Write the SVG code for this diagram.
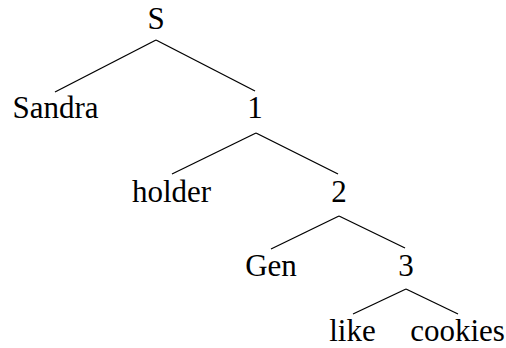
<svg xmlns="http://www.w3.org/2000/svg" width="506" height="348" viewBox="0 0 506 348">
<style>
text{font-family:"Liberation Serif","Times New Roman",serif;font-size:31px;fill:#000;text-anchor:middle}
line{stroke:#000;stroke-width:1.3}
</style>
<rect width="506" height="348" fill="#fff"/>
<g id="connectors">
<line x1="156" y1="40" x2="55" y2="92"/>
<line x1="156" y1="40" x2="255" y2="91"/>
<line x1="256" y1="133" x2="172" y2="174"/>
<line x1="256" y1="133" x2="338" y2="174"/>
<line x1="339" y1="216" x2="271" y2="249"/>
<line x1="339" y1="216" x2="405" y2="248"/>
<line x1="406" y1="289" x2="353" y2="314"/>
<line x1="406" y1="289" x2="458" y2="314"/>
</g>
<g id="n-S"><text x="156" y="29">S</text></g>
<g id="n-Sandra"><text x="55.5" y="118">Sandra</text></g>
<g id="n-1"><text x="255" y="118">1</text></g>
<g id="n-holder"><text x="171.5" y="202">holder</text></g>
<g id="n-2"><text x="339" y="202">2</text></g>
<g id="n-Gen"><text x="271" y="276">Gen</text></g>
<g id="n-3"><text x="406" y="276">3</text></g>
<g id="n-like"><text x="352.5" y="341">like</text></g>
<g id="n-cookies"><text x="457.5" y="341">cookies</text></g>
</svg>
